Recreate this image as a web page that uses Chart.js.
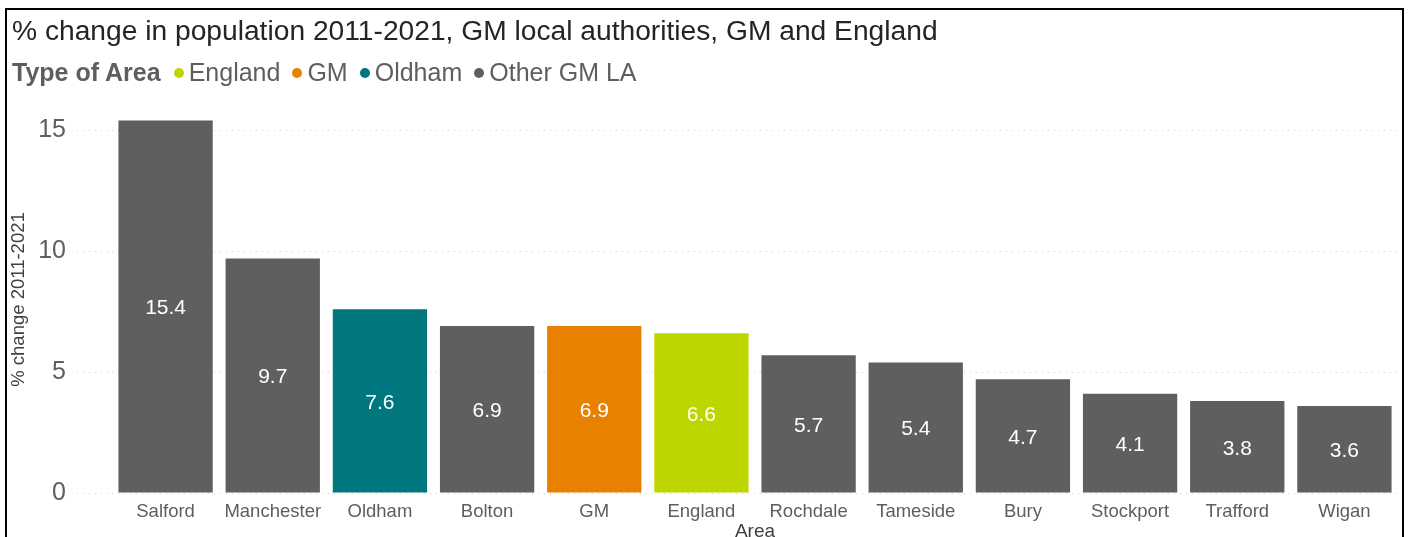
<!DOCTYPE html>
<html>
<head>
<meta charset="utf-8">
<script src="https://cdn.jsdelivr.net/npm/chart.js@4"></script>
<style>
  body { margin:0; overflow:hidden; background:#fff; font-family:"Liberation Sans", Arial, sans-serif; }
  #frame { position:absolute; left:5px; top:8px; width:1399px; height:600px; border:2px solid #000; box-sizing:border-box; pointer-events:none; z-index:2; }
  #title { position:absolute; left:12px; top:13px; font-size:28.2px; line-height:34px; color:#252423; white-space:nowrap; z-index:3; }
  #legend { position:absolute; left:12px; top:57px; font-size:25px; line-height:30px; color:#605E5C; white-space:nowrap; z-index:3; }
  #legend b { color:#605E5C; margin-right:13px; }
  #legend .item { margin-right:12px; }
  #legend .dot { display:inline-block; width:10px; height:10px; border-radius:50%; margin-right:5px; vertical-align:3px; }
  #myChart { position:absolute; left:0; top:0; }
</style>
</head>
<body>
<div id="frame"></div>
<div id="title">% change in population 2011-2021, GM local authorities, GM and England</div>
<div id="legend"></div>
<canvas id="myChart" width="1409" height="560"></canvas>
<script>
// areas, values and type of area for each bar
const areas = ['Salford','Manchester','Oldham','Bolton','GM','England','Rochdale','Tameside','Bury','Stockport','Trafford','Wigan'];
const changes = [15.4, 9.7, 7.6, 6.9, 6.9, 6.6, 5.7, 5.4, 4.7, 4.1, 3.8, 3.6];
const areaTypes = ['Other GM LA','Other GM LA','Oldham','Other GM LA','GM','England','Other GM LA','Other GM LA','Other GM LA','Other GM LA','Other GM LA','Other GM LA'];

// legend order + colours
const types = ['England','GM','Oldham','Other GM LA'];
const typeColours = ['#BED600','#E88100','#00777F','#5F5F61'];

const yTicks = [0, 5, 10, 15];

function colourOf(t){ return typeColours[types.indexOf(t)] }

// legend (html)
let html = '<b>Type of Area</b>';
types.forEach((t,i) => {
	html += `<span class="item"><span class="dot" style="background:${typeColours[i]}"></span>${t}</span>`
})
document.querySelector('#legend').innerHTML = html;

// value labels in the middle of each bar
const barValues = {
	id : 'barValues',
	afterDatasetsDraw(chart){
		const ctx = chart.ctx;
		ctx.save();
		ctx.font = '21px "Liberation Sans", Arial, sans-serif';
		ctx.fillStyle = '#ffffff';
		ctx.textAlign = 'center';
		ctx.textBaseline = 'middle';
		chart.getDatasetMeta(0).data.forEach((bar,i) => {
			ctx.fillText(changes[i].toFixed(1), bar.x, (bar.y + bar.base)/2 + 2);
		})
		ctx.restore();
	}
}

const ctx = document.getElementById('myChart');

new Chart(ctx, {
	type: 'bar',
	data: {
		labels: areas,
		datasets: [{
			label: '% change 2011-2021',
			data: changes,
			backgroundColor: areaTypes.map(colourOf),
			barPercentage: 0.88,
			categoryPercentage: 1
		}]
	},
	options: {
		responsive: false,
		animation: false,
		devicePixelRatio: 1,
		layout: { padding: { top: 106, right: 11, left: 0, bottom: 0 } },
		plugins: { legend: { display: false }, tooltip: { enabled: false } },
		scales: {
			x: {
				grid: { display: false },
				border: { display: false },
				ticks: { font: { size: 18.5, family: '"Liberation Sans", Arial' }, color: '#605E5C', padding: 0, maxRotation: 0, autoSkip: false },
				title: { display: true, text: 'Area', font: { size: 19, family: '"Liberation Sans", Arial' }, color: '#404040', padding: { top: 0, bottom: 17 } },
				afterFit: (s) => { s.height = 67 }
			},
			y: {
				min: 0,
				max: 16,
				afterBuildTicks: (s) => { s.ticks = yTicks.map(v => ({ value: v })) },
				border: { display: false, dash: [1, 5] },
				grid: { color: '#cfcfcf', tickColor: '#cfcfcf', tickLength: 35, tickBorderDash: [1, 5] },
				ticks: { font: { size: 25, family: '"Liberation Sans", Arial' }, color: '#605E5C', padding: 11 },
				title: { display: true, text: '% change 2011-2021', font: { size: 18.5, family: '"Liberation Sans", Arial' }, color: '#404040', padding: { top: 8, bottom: 0 } },
				afterFit: (s) => { s.width = 112 }
			}
		}
	},
	plugins: [barValues]
});
</script>
</body>
</html>
